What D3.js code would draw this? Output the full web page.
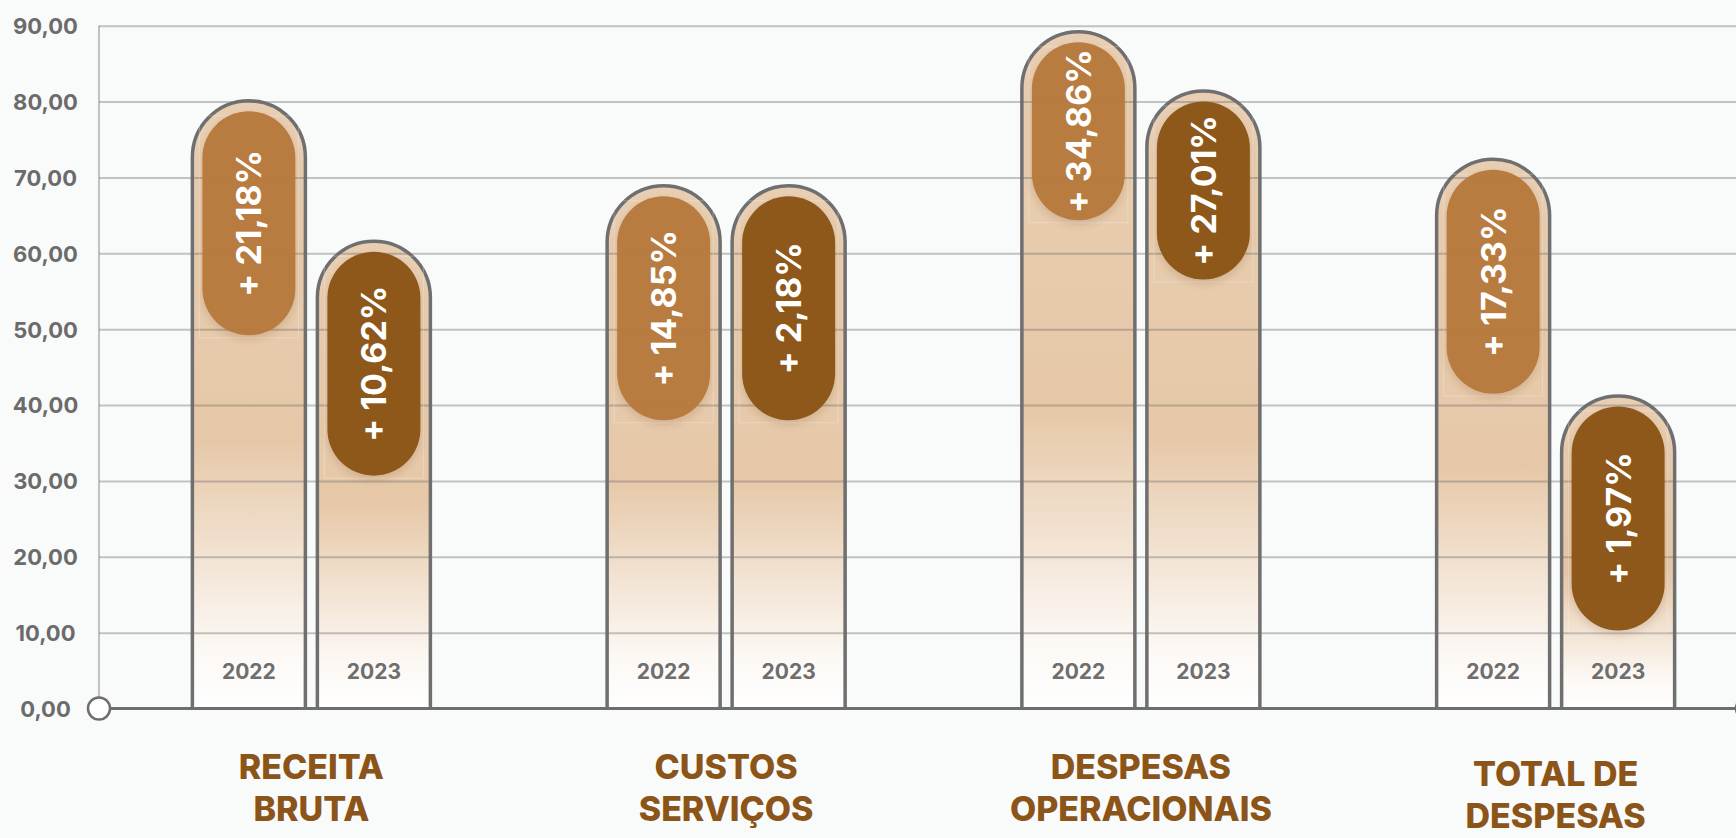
<!DOCTYPE html>
<html lang="pt">
<head>
<meta charset="utf-8">
<title>receita x despesas</title>
<style>
  * { margin:0; padding:0; }
  body { background:#f9fafa; overflow:hidden; }
  svg { display:block; }
</style>
<script src="https://cdn.jsdelivr.net/npm/d3@7"></script>
</head>
<body>
<div id="chart"></div>
<script>
// data
var categories = ["RECEITA BRUTA", "CUSTOS SERVIÇOS", "DESPESAS OPERACIONAIS", "TOTAL DE DESPESAS"];
var categoryLines = [["RECEITA", "BRUTA"], ["CUSTOS", "SERVIÇOS"], ["DESPESAS", "OPERACIONAIS"], ["TOTAL DE", "DESPESAS"]];
var years = ["2022", "2023"];
var values2022 = [80.1, 68.9, 89.2, 72.4];
var values2023 = [61.6, 68.9, 81.4, 41.2];
var growth2022 = ["+ 21,18%", "+ 14,85%", "+ 34,86%", "+ 17,33%"];
var growth2023 = ["+ 10,62%", "+ 2,18%", "+ 27,01%", "+ 1,97%"];
var ticks = [0, 10, 20, 30, 40, 50, 60, 70, 80, 90];

// styling
var w = 1736, h = 838;
var pillColor = {"2022": "#b77a3e", "2023": "#8b5418"};
var pillLen = [224, 224, 178, 224];
var labelShift = [0, 0, 0, 7];
var font = "Inter, 'Open Sans', Roboto, sans-serif";

var rows = [];
categories.forEach(function(c, i){
  years.forEach(function(yr, j){
    rows.push({cat: c, ci: i, year: yr,
      v: (j == 0 ? values2022 : values2023)[i],
      g: (j == 0 ? growth2022 : growth2023)[i]});
  });
});

var svg = d3.select("#chart").append("svg")
  .attr("width", w).attr("height", h);

svg.append("rect").attr("width", w).attr("height", h).attr("fill", "#f9fafa");

var y = d3.scaleLinear().domain([0, 90]).range([708.5, 25.7]);
var x = d3.scaleBand().domain(categories).range([104, 1763]);
var xs = d3.scaleBand().domain(years).range([-119, 119]).paddingInner(0.096);
var bw = xs.bandwidth();
var x0 = 99;

var loc = d3.formatLocale({decimal: ",", thousands: ".", grouping: [3], currency: ["R$", ""]});
var fmt = loc.format(".2f");

function bx(d){ return x(d.cat) + x.bandwidth() / 2 + xs(d.year); }

// defs
var defs = svg.append("defs");
var grad = defs.append("linearGradient").attr("id", "barFill")
  .attr("x1", 0).attr("y1", 0).attr("x2", 0).attr("y2", 1);
grad.append("stop").attr("offset", 0).attr("stop-color", "#e8cfb3");
grad.append("stop").attr("offset", 0.56).attr("stop-color", "#e6c8a8");
grad.append("stop").attr("offset", 0.9).attr("stop-color", "#fcf8f4");
grad.append("stop").attr("offset", 1).attr("stop-color", "#ffffff");

var shadow = defs.append("filter").attr("id", "pillShadow")
  .attr("x", "-30%").attr("y", "-20%").attr("width", "160%").attr("height", "140%");
shadow.append("feDropShadow").attr("dx", 0).attr("dy", 4).attr("stdDeviation", 4)
  .attr("flood-color", "#7a4a1a").attr("flood-opacity", 0.2);

// y tick labels
var yAxis = svg.append("g").attr("transform", "translate(" + x0 + ",0)")
  .call(d3.axisLeft(y).tickValues(ticks).tickSize(0).tickFormat(fmt));
yAxis.select(".domain").remove();
yAxis.selectAll("text")
  .attr("x", 45.5 - x0)
  .attr("dy", "0.36em")
  .attr("text-anchor", "middle")
  .style("font-family", font)
  .style("font-weight", 700)
  .style("font-size", "22px")
  .style("fill", "#6b6b6b");

// bars
function barPath(d){
  var l = bx(d), r = l + bw, rad = bw / 2, top = y(d.v), bot = y(0);
  return "M" + l + "," + bot + "L" + l + "," + (top + rad) +
    "A" + rad + "," + rad + " 0 0 1 " + r + "," + (top + rad) + "L" + r + "," + bot;
}
svg.append("g").selectAll("path")
  .data(rows)
  .enter()
  .append("path")
  .attr("d", barPath)
  .attr("fill", "url(#barFill)")
  .attr("stroke", "#6f6f6f")
  .attr("stroke-width", 3.5);

// grid on top of bars
var grid = svg.append("g").attr("transform", "translate(" + x0 + ",0)")
  .call(d3.axisLeft(y).tickValues(ticks.slice(1)).tickSize(-(w - x0)).tickFormat(""));
grid.select(".domain").remove();
grid.selectAll("line").attr("stroke", "rgba(110,110,110,0.4)").attr("stroke-width", 2);
svg.append("line")
  .attr("x1", x0).attr("x2", x0).attr("y1", y(90)).attr("y2", y(0))
  .attr("stroke", "rgba(110,110,110,0.4)").attr("stroke-width", 2);

// pills
var pw = 93;
var pills = svg.append("g").selectAll("g")
  .data(rows)
  .enter()
  .append("g");
pills.append("rect")
  .attr("x", function(d){ return bx(d) + (bw - pw) / 2 - 3; })
  .attr("y", function(d){ return y(d.v) + 15; })
  .attr("width", pw + 6)
  .attr("height", function(d){ return pillLen[d.ci] - 2; })
  .attr("fill", "none")
  .attr("stroke", "rgba(255,255,255,0.25)")
  .attr("stroke-width", 1);
pills.append("rect")
  .attr("x", function(d){ return bx(d) + (bw - pw) / 2; })
  .attr("y", function(d){ return y(d.v) + 10.5; })
  .attr("width", pw)
  .attr("height", function(d){ return pillLen[d.ci]; })
  .attr("rx", pw / 2)
  .attr("fill", function(d){ return pillColor[d.year]; })
  .attr("opacity", 0.97)
  .attr("filter", "url(#pillShadow)");
pills.append("text")
  .attr("transform", function(d){
    var cx = bx(d) + bw / 2, cy = y(d.v) + 10.5 + pillLen[d.ci] / 2;
    return "translate(" + cx + "," + cy + ") rotate(-90)";
  })
  .attr("text-anchor", "middle")
  .attr("dominant-baseline", "central")
  .style("font-family", font)
  .style("font-weight", 700)
  .style("font-size", "34px")
  .style("fill", "#ffffff")
  .text(function(d){ return d.g; });

// year labels
svg.append("g").selectAll("text")
  .data(rows)
  .enter()
  .append("text")
  .attr("x", function(d){ return bx(d) + bw / 2; })
  .attr("y", 671)
  .attr("text-anchor", "middle")
  .attr("dominant-baseline", "central")
  .style("font-family", font)
  .style("font-weight", 700)
  .style("font-size", "21px")
  .style("fill", "#6e6e6e")
  .text(function(d){ return d.year; });

// x axis with end circles
svg.append("line")
  .attr("x1", x0).attr("x2", w + 20).attr("y1", y(0)).attr("y2", y(0))
  .attr("stroke", "#6e6e6e").attr("stroke-width", 3);
svg.selectAll(".endcap")
  .data([x0, 1747])
  .enter()
  .append("circle")
  .attr("cx", function(d){ return d; })
  .attr("cy", y(0))
  .attr("r", 11)
  .attr("fill", "#ffffff")
  .attr("stroke", "#6e6e6e")
  .attr("stroke-width", 2.5);

// category labels
var cat = svg.append("g").selectAll("text")
  .data(categories)
  .enter()
  .append("text")
  .attr("text-anchor", "middle")
  .style("font-family", font)
  .style("font-weight", 800)
  .style("font-size", "34px")
  .style("fill", "#8b5418");
cat.each(function(d, i){
  var t = d3.select(this);
  categoryLines[i].forEach(function(line, k){
    t.append("tspan")
      .attr("x", x(d) + x.bandwidth() / 2)
      .attr("y", 779 + labelShift[i] + k * 42)
      .text(line);
  });
});
</script>
</body>
</html>
